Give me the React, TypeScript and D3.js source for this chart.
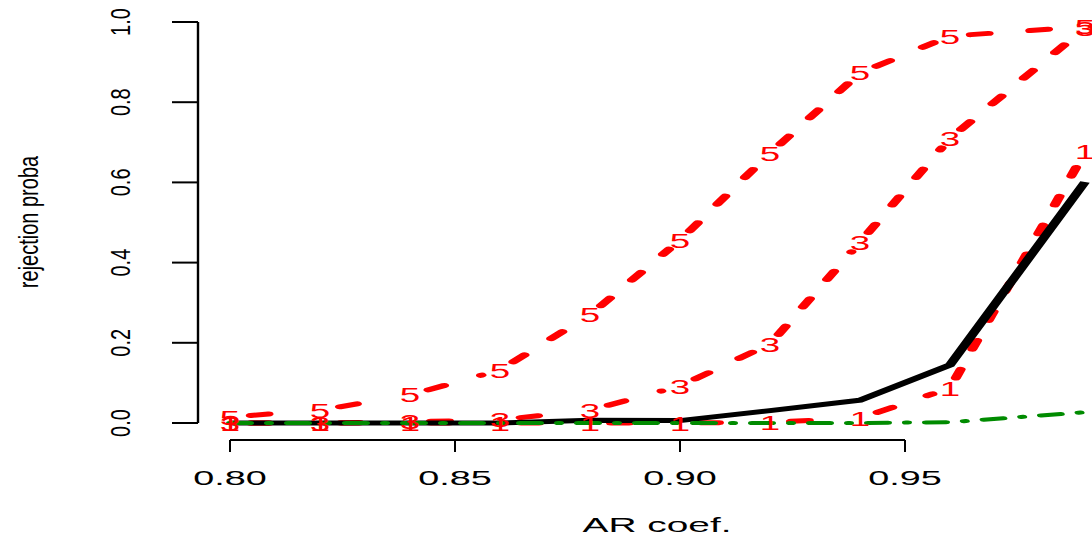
import React, { useEffect, useRef } from 'react';
import * as d3 from 'd3';

// AR coefficient grid
const arCoef = [0.8, 0.82, 0.84, 0.86, 0.88, 0.9, 0.92, 0.94, 0.96, 0.99];

// rejection probabilities per lag order (red dashed, marked with the lag)
const lag5 = [0.015, 0.032, 0.07, 0.132, 0.27, 0.456, 0.673, 0.873, 0.965, 0.988];
const lag3 = [0, 0, 0.003, 0.008, 0.032, 0.092, 0.197, 0.451, 0.71, 0.985];
const lag1 = [0, 0, 0, 0, 0, 0, 0.002, 0.012, 0.087, 0.676];

// solid black and green dash-dot curves
const blackSeries = [0, 0, 0, 0, 0.007, 0.006, 0.031, 0.057, 0.145, 0.601];
const greenSeries = [0, 0, 0, 0, 0, 0, 0, 0, 0.002, 0.027];

const xTicks = [0.8, 0.85, 0.9, 0.95];
const yTicks = [0, 0.2, 0.4, 0.6, 0.8, 1.0];

const redSeries = [
  { label: '5', values: lag5 },
  { label: '3', values: lag3 },
  { label: '1', values: lag1 },
];

const W = 1092;
const H = 537;
const SX = 2; // the picture is stretched horizontally
const FONT = 'Liberation Sans, Arial, Helvetica, sans-serif';

const App: React.FC = () => {
  const svgRef = useRef<SVGSVGElement>(null);

  useEffect(() => {
    if (!svgRef.current) return;
    const svg = d3.select(svgRef.current);
    svg.selectAll('*').remove();

    const x = d3.scaleLinear().domain([0.8, 0.95]).range([230, 905]);
    // same scale in the un-stretched space (group is scaled by SX)
    const xs = d3.scaleLinear().domain([0.8, 0.95]).range([230 / SX, 905 / SX]);
    const y = d3.scaleLinear().domain([0, 1]).range([423, 22]);

    const plot = svg.append('g').attr('transform', `scale(${SX},1)`);

    // red dashed lines, type "b": segments stop short of the labels
    const gap = 10.5;
    redSeries.forEach(s => {
      for (let i = 0; i < arCoef.length - 1; i++) {
        const x0 = xs(arCoef[i]), y0 = y(s.values[i]);
        const x1 = xs(arCoef[i + 1]), y1 = y(s.values[i + 1]);
        const len = Math.hypot(x1 - x0, y1 - y0);
        if (len <= 2 * gap) continue;
        const ux = (x1 - x0) / len, uy = (y1 - y0) / len;
        plot.append('line')
          .attr('x1', x0 + ux * gap)
          .attr('y1', y0 + uy * gap)
          .attr('x2', x1 - ux * gap)
          .attr('y2', y1 - uy * gap)
          .attr('stroke', '#ff0000')
          .attr('stroke-width', 5)
          .attr('stroke-linecap', 'round')
          .attr('stroke-dasharray', '9,21')
          .attr('fill', 'none');
      }
    });

    const line = d3.line<number>()
      .x((d, i) => xs(arCoef[i]))
      .y(d => y(d));

    plot.append('path')
      .datum(blackSeries)
      .attr('d', line)
      .attr('fill', 'none')
      .attr('stroke', '#000')
      .attr('stroke-width', 5)
      .attr('stroke-linejoin', 'miter');

    plot.append('path')
      .datum(greenSeries)
      .attr('d', line)
      .attr('fill', 'none')
      .attr('stroke', '#008b00')
      .attr('stroke-width', 4)
      .attr('stroke-linecap', 'round')
      .attr('stroke-dasharray', '10,9,1,9');

    // point labels
    redSeries.forEach(s => {
      s.values.forEach((v, i) => {
        svg.append('text')
          .attr('transform', `translate(${x(arCoef[i])},${y(v)}) scale(1.75,1)`)
          .attr('text-anchor', 'middle')
          .attr('dy', '0.36em')
          .attr('fill', '#ff0000')
          .attr('font-family', FONT)
          .attr('font-size', 21)
          .text(s.label);
      });
    });

    // x axis
    svg.append('line')
      .attr('x1', x(xTicks[0])).attr('x2', x(xTicks[xTicks.length - 1]))
      .attr('y1', 440).attr('y2', 440)
      .attr('stroke', '#000').attr('stroke-width', 2);
    xTicks.forEach(t => {
      svg.append('line')
        .attr('x1', x(t)).attr('x2', x(t))
        .attr('y1', 440).attr('y2', 452)
        .attr('stroke', '#000').attr('stroke-width', 2);
      svg.append('text')
        .attr('transform', `translate(${x(t)},485) scale(1.8,1)`)
        .attr('text-anchor', 'middle')
        .attr('font-family', FONT)
        .attr('font-size', 21)
        .attr('fill', '#000')
        .text(d3.format('.2f')(t));
    });
    svg.append('text')
      .attr('transform', `translate(657,532) scale(1.85,1)`)
      .attr('text-anchor', 'middle')
      .attr('font-family', FONT)
      .attr('font-size', 21)
      .attr('fill', '#000')
      .text('AR coef.');

    // y axis
    svg.append('line')
      .attr('x1', 198).attr('x2', 198)
      .attr('y1', y(0)).attr('y2', y(1))
      .attr('stroke', '#000').attr('stroke-width', 2.4);
    yTicks.forEach(t => {
      svg.append('line')
        .attr('x1', 172).attr('x2', 198)
        .attr('y1', y(t)).attr('y2', y(t))
        .attr('stroke', '#000').attr('stroke-width', 2);
      svg.append('text')
        .attr('transform', `translate(130,${y(t)}) scale(1.4,1) rotate(-90)`)
        .attr('text-anchor', 'middle')
        .attr('font-family', FONT)
        .attr('font-size', 20)
        .attr('fill', '#000')
        .text(d3.format('.1f')(t));
    });
    svg.append('text')
      .attr('transform', `translate(38,222) scale(1.35,1) rotate(-90)`)
      .attr('text-anchor', 'middle')
      .attr('font-family', FONT)
      .attr('font-size', 20)
      .attr('fill', '#000')
      .text('rejection proba');
  }, []);

  return (
    <svg
      ref={svgRef}
      width={W}
      height={H}
      style={{ position: 'absolute', left: 0, top: 0, background: '#fff', overflow: 'hidden' }}
    />
  );
};

export default App;
